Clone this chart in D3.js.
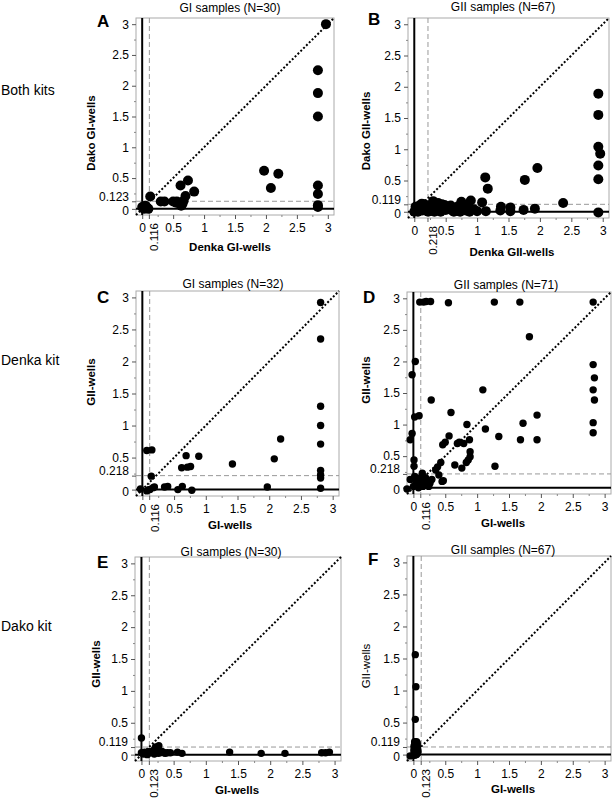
<!DOCTYPE html>
<html lang="en">
<head>
<meta charset="UTF-8">
<title>GI / GII wells by kit</title>
<script src="https://cdn.jsdelivr.net/npm/d3@7"></script>
<style>
  body { margin: 0; background: #fff; }
  text { font-family: "Liberation Sans", Arial, sans-serif; }
</style>
</head>
<body>
<script>
// --- values: [x, y] per sample ---
const giBoth = [[0,0.03],[0.03,0],[0.08,0.02],[0.1,0],[0.05,0.05],[0.13,0.2],[0.3,0.12],[0.36,0.12],
  [0.5,0.12],[0.56,0.12],[0.6,0.1],[0.65,0.08],[0.67,0.13],[0.63,0.05],[0.55,0.1],[0.62,0.38],
  [0.74,0.46],[0.7,0.21],[0.84,0.28],[1.97,0.62],[2.2,0.57],[2.08,0.34],[2.97,3.0],[2.84,2.25],
  [2.84,1.88],[2.84,1.5],[2.84,0.38],[2.84,0.24],[2.84,0.03],[2.84,0.06]];

const giiBoth = [[0,0],[0.03,0.02],[0.06,0],[0.1,0.05],[0.08,0.1],[0.12,0.13],[0.15,0.07],[0.18,0.02],
  [0.2,0.1],[0.22,0],[0.26,0.05],[0.3,0.17],[0.3,0.08],[0.32,0],[0.35,0.12],[0.37,0.04],[0.4,0.09],
  [0.42,0],[0.45,0.07],[0.48,0.11],[0.5,0.03],[0.55,0.06],[0.6,0.02],[0.65,0.05],[0.7,0.09],[0.73,0],
  [0.75,0.16],[0.78,0.07],[0.82,0.02],[0.88,0],[0.9,0.18],[1.0,0.01],[1.08,0.15],[1.14,0.01],
  [1.13,0.55],[1.17,0.37],[1.37,0.02],[1.38,0.08],[1.53,0.01],[1.53,0.07],[1.74,0.03],[1.76,0.51],
  [1.96,0.7],[1.92,0.05],[2.37,0.14],[2.93,1.89],[2.93,1.55],[2.93,1.04],[2.96,0.93],[2.93,0.74],
  [2.93,0.52],[2.93,-0.01],[0.02,0.08],[0.05,0.01],[0.13,0.02],[0.16,0.12],[0.24,0.1],[0.28,0.02],
  [0.34,0.06],[0.38,0.14],[0.44,0.12],[0.52,0.08],[0.58,0.1],[0.63,0],[0.68,0.03],[0.85,0.08],[0.95,0.04]];

const giDenka = [[-0.03,0.01],[0.07,-0.02],[0.1,0],[0.07,0.61],[0.15,0.62],[0.14,0.21],[0.12,0],
  [0.17,0.03],[0.19,0.04],[0.35,0.04],[0.4,0.05],[0.56,0],[0.63,0.05],[0.78,-0.01],[0.69,0.53],
  [0.62,0.34],[0.71,0.35],[0.76,0.36],[0.89,0.52],[1.42,0.4],[1.97,0.04],[2.08,0.48],[2.18,0.79],
  [2.81,2.92],[2.81,2.35],[2.81,1.3],[2.81,1.0],[2.81,0.71],[2.81,0.3],[2.81,0.23],[2.81,0.18],[2.81,0.02]];

const giiDenka = [[0.1,2.94],[0.16,2.94],[0.2,2.95],[0.27,2.95],[0.55,2.93],[1.27,2.94],[1.67,2.94],
  [2.82,2.94],[-0.05,0.76],[-0.02,0.86],[0.02,1.12],[0.09,1.14],[0.03,2.0],[-0.02,1.79],[0.01,0.44],
  [0.01,0.34],[-0.1,-0.02],[-0.05,0.13],[0.02,0.18],[0.06,0.11],[0.11,0.16],[0.14,0.23],[0.19,0.16],
  [0.17,0.08],[0.22,0.08],[0.24,0.02],[0.26,0.07],[0.11,0.05],[0.04,0.06],[0.29,0.13],[0,0.02],
  [0.08,0],[0.15,0.02],[0.2,0.12],[0.35,0.28],[0.38,0.33],[0.43,0.4],[0.45,0.1],[0.47,0.11],
  [0.46,0.68],[0.5,0.72],[0.56,0.82],[0.28,1.39],[0.59,1.19],[0.65,0.36],[0.69,0.7],[0.76,0.31],
  [0.79,0.7],[0.84,1.0],[0.83,0.4],[0.86,0.44],[0.89,0.57],[0.88,0.76],[0.89,0.49],[1.13,0.93],
  [1.82,2.39],[1.09,1.55],[1.28,0.34],[1.34,0.81],[1.68,0.76],[1.72,1.02],[1.94,0.76],[1.94,1.15],
  [2.82,1.95],[2.84,1.74],[2.82,1.55],[2.84,1.39],[2.82,1.03],[2.82,0.87],[0.72,0.72],[0.4,0.2]];

const giDako = [[0,0.26],[0,0.03],[0.03,0.01],[0.07,0.03],[0.1,0.02],[0.14,0.03],[0.12,0.05],[0.17,0.04],
  [0.19,0.07],[0.22,0.12],[0.27,0.14],[0.24,0.04],[0.29,0.03],[0.32,0.05],[0.35,0.03],[0.4,0.03],
  [0.45,0.03],[0.56,0.04],[0.63,0.02],[1.37,0.04],[1.86,0.02],[2.23,0.02],[2.8,0.03],[2.86,0.03],
  [2.92,0.04],[0.05,0.04],[0.09,0],[0.2,0.01],[0.26,0.02],[0.37,0.02]];

const giiDako = [[0.03,1.56],[0.04,1.06],[0.03,0.55],[-0.05,-0.02],
  [0.02,0.2],[0.04,0.19],[0.05,0.17],[0.03,0.16],[0.06,0.15],[0.02,0.14],[0.04,0.13],[0.06,0.12],
  [0.03,0.11],[0.05,0.1],[0.02,0.09],[0.04,0.08],[0.06,0.07],[0.03,0.06],[0.05,0.05],[0.02,0.04],
  [0.04,0.03],[0.06,0.02],[0.03,0.01],[0.05,0],[0.01,0],[0.02,-0.01],[0.04,0.01],[0.03,0.03],
  [0.05,0.04],[0.02,0.06],[0.04,0.05],[0.06,0.05],[0.03,0.08],[0.05,0.08],[0.02,0.11],[0.04,0.1],
  [0.06,0.09],[0.03,0.13],[0.05,0.13],[0.02,0.17],[0.04,0.16],[0.06,0.18],[0.03,0.19],[0.05,0.2],
  [0.03,0.02],[0.04,0],[0.02,0.02],[0.05,0.03],[0.03,0.04],[0.04,0.06],[0.05,0.07],[0.03,0.07],
  [0.04,0.09],[0.02,0.1],[0.05,0.11],[0.03,0.12],[0.04,0.14],[0.05,0.15],[0.03,0.15],[0.04,0.17],
  [0.02,0.12],[0.06,0.1],[0.01,0.05],[0.01,0.08],[0.07,0.06],[0.07,0.03],[0.01,0.13]];

// cut-off values (x, y) per panel
const xCutoffs = [0.116, 0.218, 0.116, 0.116, 0.123, 0.123];
const yCutoffs = [0.123, 0.119, 0.218, 0.218, 0.119, 0.119];

const panelLetters = ["A", "B", "C", "D", "E", "F"];
const panelTitles = ["GI samples (N=30)", "GII samples (N=67)", "GI samples (N=32)",
  "GII samples (N=71)", "GI samples (N=30)", "GII samples (N=67)"];
const xTitles = ["Denka GI-wells", "Denka GII-wells", "GI-wells", "GI-wells", "GI-wells", "GI-wells"];
const yTitles = ["Dako GI-wells", "Dako GII-wells", "GII-wells", "GII-wells", "GII-wells", "GII-wells"];
const rowLabels = ["Both kits", "Denka kit", "Dako kit"];

const majorTicks = [0, 0.5, 1, 1.5, 2, 2.5, 3];
const minorTicks = [0.25, 0.75, 1.25, 1.75, 2.25, 2.75];

const panelData = [giBoth, giiBoth, giDenka, giiDenka, giDako, giiDako];

// where each panel sits on the page
const layout = [
  {left:136, right:334, top:18,  bottom:215, r:5,   title:[230,12],  letter:[97,27],  xt:[230,251], yt:[95,133],  bold:true},
  {left:408, right:609, top:18,  bottom:218, r:5,   title:[503,11],  letter:[368,25], xt:[512,256], yt:[370,131], bold:true},
  {left:136, right:339, top:291, bottom:496, r:3.7, title:[233,288], letter:[97,303], xt:[230,529], yt:[95,382],  bold:true},
  {left:407, right:611, top:292, bottom:494, r:3.7, title:[506,289], letter:[363,303],xt:[503,527], yt:[370,380], bold:true},
  {left:135, right:341, top:557, bottom:761, r:3.7, title:[231,556], letter:[97,568], xt:[237,794], yt:[100,664], bold:true},
  {left:407, right:611, top:556, bottom:761, r:3.7, title:[503,554], letter:[368,565],xt:[513,793], yt:[370,666], bold:false}
];
const rowLabelPos = [[1,95],[1,365],[1,631]];

const svg = d3.select('body').append('svg')
  .attr('width', 612)
  .attr('height', 799);

const fmt = d3.format('~g');
const fmt3 = d3.format('.3f');
const domain = [-0.1, 3.1];

panelData.forEach(function (data, i) {
  const L = layout[i];
  const x = d3.scaleLinear().domain(domain).range([L.left, L.right]);
  const y = d3.scaleLinear().domain(domain).range([L.bottom, L.top]);
  const g = svg.append('g');

  // frame
  g.append('rect')
    .attr('x', L.left).attr('y', L.top)
    .attr('width', L.right - L.left).attr('height', L.bottom - L.top)
    .attr('fill', 'none').attr('stroke', '#aaa').attr('stroke-width', 1);

  // minor ticks
  g.append('g').attr('transform', 'translate(0,' + L.bottom + ')')
    .call(d3.axisBottom(x).tickValues(minorTicks).tickSize(2).tickFormat(''))
    .call(a => a.select('.domain').remove())
    .selectAll('line').attr('stroke', '#888');
  g.append('g').attr('transform', 'translate(' + L.left + ',0)')
    .call(d3.axisLeft(y).tickValues(minorTicks).tickSize(2).tickFormat(''))
    .call(a => a.select('.domain').remove())
    .selectAll('line').attr('stroke', '#888');

  // major ticks + cut-off on y
  const xAx = g.append('g').attr('transform', 'translate(0,' + L.bottom + ')')
    .call(d3.axisBottom(x).tickValues(majorTicks).tickSize(4).tickPadding(4).tickFormat(fmt));
  const yAx = g.append('g').attr('transform', 'translate(' + L.left + ',0)')
    .call(d3.axisLeft(y).tickValues(majorTicks.concat([yCutoffs[i]])).tickSize(4).tickPadding(3)
      .tickFormat(d => d === yCutoffs[i] ? fmt3(d) : fmt(d)));
  [xAx, yAx].forEach(function (a) {
    a.select('.domain').remove();
    a.selectAll('line').attr('stroke', '#555');
    a.selectAll('text').attr('fill', '#000').style('font-size', '12px')
      .style('font-family', '"Liberation Sans", Arial, sans-serif');
  });
  // nudge the cut-off label up a little, as in the original
  yAx.selectAll('.tick').filter(d => d === yCutoffs[i]).select('text').attr('dy', '-0.1em');
  yAx.selectAll('.tick').filter(d => d === 0).select('text').attr('dy', '0.45em');

  // cut-off on x: rotated label
  g.append('line')
    .attr('x1', x(xCutoffs[i])).attr('x2', x(xCutoffs[i]))
    .attr('y1', L.bottom).attr('y2', L.bottom + 4)
    .attr('stroke', '#555');
  g.append('text')
    .attr('transform', 'translate(' + (x(xCutoffs[i]) + 9) + ',' + (L.bottom + 8) + ') rotate(-90)')
    .attr('text-anchor', 'end')
    .style('font-size', '11.5px')
    .text(fmt3(xCutoffs[i]));

  // dashed cut-off lines
  g.append('line')
    .attr('x1', x(xCutoffs[i])).attr('x2', x(xCutoffs[i]))
    .attr('y1', L.top).attr('y2', L.bottom)
    .attr('stroke', '#999').attr('stroke-dasharray', '5,3');
  g.append('line')
    .attr('x1', L.left).attr('x2', L.right)
    .attr('y1', y(yCutoffs[i])).attr('y2', y(yCutoffs[i]))
    .attr('stroke', '#999').attr('stroke-dasharray', '5,3');

  // diagonal y = x
  g.append('line')
    .attr('x1', x(domain[0])).attr('y1', y(domain[0]))
    .attr('x2', x(domain[1])).attr('y2', y(domain[1]))
    .attr('stroke', '#000').attr('stroke-width', 2).attr('stroke-dasharray', '2,2');

  // zero lines
  g.append('line')
    .attr('x1', x(0)).attr('x2', x(0)).attr('y1', L.top).attr('y2', L.bottom)
    .attr('stroke', '#000').attr('stroke-width', 2);
  g.append('line')
    .attr('x1', L.left).attr('x2', L.right).attr('y1', y(0)).attr('y2', y(0))
    .attr('stroke', '#000').attr('stroke-width', 2);

  // points
  g.selectAll('circle')
    .data(data)
    .enter()
    .append('circle')
    .attr('cx', d => x(d[0]))
    .attr('cy', d => y(d[1]))
    .attr('r', L.r)
    .attr('fill', '#000');

  // titles and labels
  g.append('text')
    .attr('x', L.title[0]).attr('y', L.title[1])
    .attr('text-anchor', 'middle')
    .style('font-size', '12px')
    .text(panelTitles[i]);
  g.append('text')
    .attr('x', L.letter[0]).attr('y', L.letter[1])
    .style('font-size', '17px').style('font-weight', 'bold')
    .text(panelLetters[i]);
  g.append('text')
    .attr('x', L.xt[0]).attr('y', L.xt[1])
    .attr('text-anchor', 'middle')
    .style('font-size', '11.5px').style('font-weight', 'bold')
    .text(xTitles[i]);
  g.append('text')
    .attr('transform', 'translate(' + L.yt[0] + ',' + L.yt[1] + ') rotate(-90)')
    .attr('text-anchor', 'middle')
    .style('font-size', '11.5px').style('font-weight', L.bold ? 'bold' : 'normal')
    .text(yTitles[i]);
});

svg.selectAll('text.row')
  .data(rowLabels)
  .enter()
  .append('text')
  .attr('class', 'row')
  .attr('x', (d, i) => rowLabelPos[i][0])
  .attr('y', (d, i) => rowLabelPos[i][1])
  .style('font-size', '14px')
  .text(d => d);
</script>
</body>
</html>
